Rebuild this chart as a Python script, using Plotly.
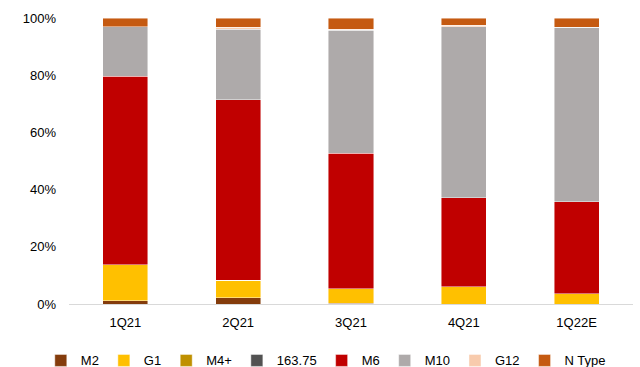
import plotly.graph_objects as go

quarters = ["1Q21", "2Q21", "3Q21", "4Q21", "1Q22E"]

# Wafer-size / type share of shipments, in percent
m2 = [1.2, 2.2, 0.3, 0.0, 0.0]
g1 = [12.6, 6.1, 5.0, 6.0, 3.6]
m4_plus = [0.0, 0.0, 0.0, 0.0, 0.0]
s163_75 = [0.0, 0.0, 0.0, 0.0, 0.0]
m6 = [65.9, 63.1, 47.4, 31.1, 32.1]
m10 = [17.2, 24.7, 43.1, 59.8, 61.1]
g12 = [0.0, 0.6, 0.35, 0.5, 0.0]
n_type = [3.1, 3.3, 3.85, 2.6, 3.2]

series = [
    ("M2", m2, "#843C0C"),
    ("G1", g1, "#FFC000"),
    ("M4+", m4_plus, "#BF9000"),
    ("163.75", s163_75, "#525252"),
    ("M6", m6, "#C00000"),
    ("M10", m10, "#AEAAAA"),
    ("G12", g12, "#F8CBAD"),
    ("N Type", n_type, "#C55A11"),
]

fig = go.Figure()
for name, vals, color in series:
    fig.add_trace(go.Bar(
        x=quarters,
        y=[v / 100 for v in vals],
        name=name,
        marker=dict(color=color, line=dict(color="rgba(255,255,255,0.6)", width=0.75)),
    ))

fig.update_layout(
    barmode="stack",
    bargap=0.6,
    width=640,
    height=367,
    margin=dict(l=69, r=7, t=18, b=63, autoexpand=False),
    paper_bgcolor="white",
    plot_bgcolor="white",
    font=dict(family="Liberation Sans, Arial, sans-serif", size=13, color="#000000"),
    showlegend=True,
    legend=dict(
        orientation="h",
        x=-0.05,
        xanchor="left",
        y=-0.145,
        yanchor="top",
        font=dict(size=13),
        traceorder="normal",
        itemwidth=30,
        tracegroupgap=0,
    ),
)
fig.update_yaxes(
    range=[0, 1],
    tickvals=[0, 0.2, 0.4, 0.6, 0.8, 1.0],
    tickformat=".0%",
    showgrid=False,
    zeroline=False,
    showline=False,
    ticks="",
    ticklabelstandoff=12,
)
fig.update_xaxes(
    showline=True,
    linecolor="#D9D9D9",
    linewidth=1,
    showgrid=False,
    ticks="",
    ticklabelstandoff=6,
)

fig.write_html("out.html")
